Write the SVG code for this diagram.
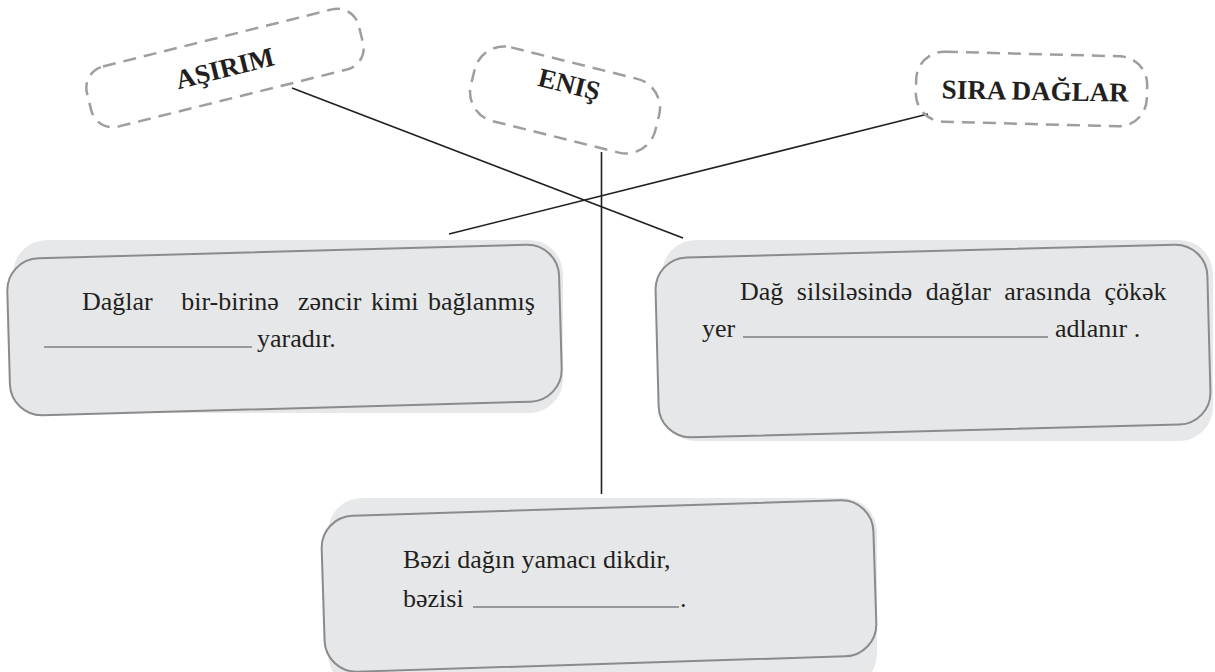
<svg xmlns="http://www.w3.org/2000/svg" width="1215" height="672" viewBox="0 0 1215 672">
<style>
.bg{fill:#e7e8e9;stroke:none}
.card{fill:#e6e7e8;stroke:#8a8b8d;stroke-width:2}
.pill{fill:none;stroke:#9d9ea0;stroke-width:2.5;stroke-dasharray:13 8}
.lbl{font-family:'Liberation Serif','Times New Roman',serif;font-weight:bold;font-size:27px;fill:#231f20}
.txt{font-family:'Liberation Serif','Times New Roman',serif;font-size:26px;fill:#231f20}
.ul{stroke:#4d4d4f;stroke-width:1.2}
.conn{stroke:#231f20;stroke-width:1.6;fill:none}
</style>
<rect width="1215" height="672" fill="#ffffff"/>
<g id="connectors">
<line class="conn" x1="292" y1="88" x2="683" y2="238"/>
<line class="conn" x1="928" y1="114" x2="449" y2="234"/>
<line class="conn" x1="601.5" y1="152" x2="601.5" y2="494"/>
</g>
<g id="label-asirim">
<rect class="pill" x="-140" y="-31" width="280" height="62" rx="22" transform="translate(225,68) rotate(-14)"/>
<text class="lbl" text-anchor="middle" transform="translate(227,77) rotate(-14)">AŞIRIM</text>
</g>
<g id="label-enis">
<rect class="pill" x="-95" y="-38" width="190" height="76" rx="30" transform="translate(565,100) rotate(14)"/>
<text class="lbl" text-anchor="middle" transform="translate(567,93) rotate(14)">ENIŞ</text>
</g>
<g id="label-sira-daglar">
<rect class="pill" x="-115.5" y="-35" width="231" height="70" rx="28" transform="translate(1031.5,89) rotate(1.5)"/>
<text class="lbl" text-anchor="middle" transform="translate(1035,100) rotate(1)">SIRA DAĞLAR</text>
</g>
<g id="card-left">
<rect class="bg" x="13" y="240" width="550" height="173" rx="34"/>
<rect class="card" x="-276" y="-78.5" width="552" height="157" rx="32" transform="translate(284.5,330) rotate(-1.6)"/>
<text class="txt" x="82" y="310" xml:space="preserve" word-spacing="3">Dağlar   bir-birinə  zəncir kimi bağlanmış</text>
<line class="ul" x1="44" y1="347" x2="252" y2="347"/>
<text class="txt" x="257" y="347">yaradır.</text>
</g>
<g id="card-right">
<rect class="bg" x="662" y="240" width="551" height="201" rx="34"/>
<rect class="card" x="-276" y="-90" width="552" height="180" rx="32" transform="translate(933,341) rotate(-1.5)"/>
<text class="txt" x="740" y="300" word-spacing="7">Dağ silsiləsində dağlar arasında çökək</text>
<text class="txt" x="702" y="337">yer</text>
<line class="ul" x1="743" y1="337" x2="1048" y2="337"/>
<text class="txt" x="1055" y="337">adlanır .</text>
</g>
<g id="card-bottom">
<rect class="bg" x="328" y="498" width="549" height="190" rx="34"/>
<rect class="card" x="-276" y="-78" width="552" height="156" rx="32" transform="translate(599,586) rotate(-1.8)"/>
<text class="txt" x="403" y="568">Bəzi dağın yamacı dikdir,</text>
<text class="txt" x="403" y="607">bəzisi</text>
<line class="ul" x1="473" y1="607" x2="679" y2="607"/>
<text class="txt" x="680" y="607">.</text>
</g>
</svg>
